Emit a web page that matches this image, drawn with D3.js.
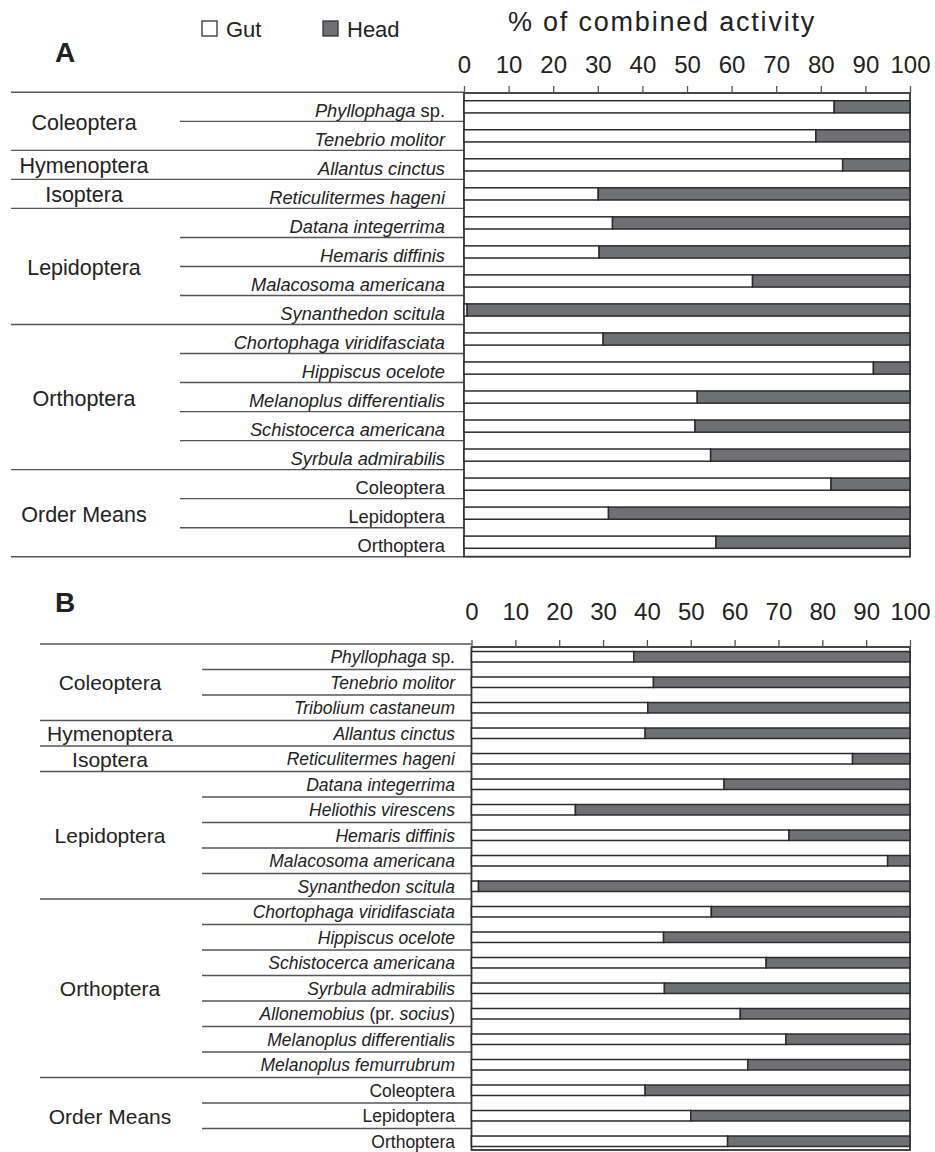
<!DOCTYPE html>
<meta charset="UTF-8">
<style>
    body { margin: 0; background: #fff; }
    svg text { font-family: "Liberation Sans", Arial, sans-serif; fill: #222; }
    .rule { stroke: #555; stroke-width: 1.4; }
    .bar { stroke: #2b2b2b; stroke-width: 1.5; }
    .frame { fill: none; stroke: #333; stroke-width: 1.8; }
    .tick line { stroke: #555; stroke-width: 1.3; }
</style>
<body>
<script src="https://d3js.org/d3.v7.min.js"></script>
<script>

// ---- panel A data ----
var speciesA = ["Phyllophaga sp.", "Tenebrio molitor", "Allantus cinctus", "Reticulitermes hageni",
  "Datana integerrima", "Hemaris diffinis", "Malacosoma americana", "Synanthedon scitula",
  "Chortophaga viridifasciata", "Hippiscus ocelote", "Melanoplus differentialis",
  "Schistocerca americana", "Syrbula admirabilis", "Coleoptera", "Lepidoptera", "Orthoptera"];
var gutA = [83.0, 78.9, 84.9, 30.1, 33.3, 30.3, 64.7, 0.7, 31.2, 91.8, 52.3, 51.8, 55.3, 82.3, 32.4, 56.5];
var ordersA = ["Coleoptera", "Hymenoptera", "Isoptera", "Lepidoptera", "Orthoptera", "Order Means"];
var orderSizesA = [2, 1, 1, 4, 5, 3];

// ---- panel B data ----
var speciesB = ["Phyllophaga sp.", "Tenebrio molitor", "Tribolium castaneum", "Allantus cinctus",
  "Reticulitermes hageni", "Datana integerrima", "Heliothis virescens", "Hemaris diffinis",
  "Malacosoma americana", "Synanthedon scitula", "Chortophaga viridifasciata", "Hippiscus ocelote",
  "Schistocerca americana", "Syrbula admirabilis", "Allonemobius (pr. socius)",
  "Melanoplus differentialis", "Melanoplus femurrubrum", "Coleoptera", "Lepidoptera", "Orthoptera"];
var gutB = [37.0, 41.5, 40.2, 39.6, 86.9, 57.6, 23.7, 72.4, 94.9, 1.6, 54.7, 43.8, 67.2, 44.0, 61.3,
  71.7, 63.0, 39.6, 50.0, 58.4];
var ordersB = ["Coleoptera", "Hymenoptera", "Isoptera", "Lepidoptera", "Orthoptera", "Order Means"];
var orderSizesB = [3, 1, 1, 5, 7, 3];

var tickValues = [0, 10, 20, 30, 40, 50, 60, 70, 80, 90, 100];
var seriesNames = ["Gut", "Head"];
var colors = { Gut: "#fff", Head: "#6f7073" };

var svg = d3.select("body").append("svg")
    .attr("width", 935)
    .attr("height", 1152);

// title + legend
svg.append("text")
    .attr("x", 662).attr("y", 31)
    .attr("text-anchor", "middle")
    .style("font-size", "27px")
    .style("letter-spacing", "1.8px")
    .text("% of combined activity");

var legend = svg.selectAll("g.legend")
    .data(seriesNames)
  .enter().append("g")
    .attr("class", "legend")
    .attr("transform", function(d, i) { return "translate(" + (202 + i * 121) + ",21)"; });
legend.append("rect")
    .attr("width", 15).attr("height", 15)
    .style("fill", function(d) { return colors[d]; })
    .style("stroke", "#333").style("stroke-width", 1.3);
legend.append("text")
    .attr("x", 24).attr("y", 15.5)
    .style("font-size", "22px")
    .text(function(d) { return d; });

// italic species names, with "sp.", "(pr. " and ")" upright
function writeName(sel, name, upright) {
  var parts = upright ? [name] : name.split(/(sp\.|\(pr\. |\))/).filter(Boolean);
  parts.forEach(function(p) {
    var plain = upright || /^(sp\.|\(pr\. |\))$/.test(p);
    sel.append("tspan")
      .style("font-style", plain ? "normal" : "italic")
      .text(p);
  });
}

function drawPanel(cfg) {
  var g = svg.append("g");
  var n = cfg.species.length;
  var idx = d3.range(n);

  var x = d3.scaleLinear().domain([0, 100]).range([cfg.x0, cfg.x1]);
  var rows = d3.scaleBand().domain(idx).range([cfg.rowTop, cfg.rowBottom]);
  var bars = rows.copy().paddingInner(cfg.pad).paddingOuter(cfg.pad / 2);

  // panel letter
  g.append("text")
      .attr("x", 55).attr("y", cfg.letterY)
      .style("font-size", "28px").style("font-weight", "bold")
      .text(cfg.letter);

  // group boundaries
  var ends = [], acc = 0;
  cfg.sizes.forEach(function(s) { acc += s; ends.push(acc); });
  var starts = [0].concat(ends.slice(0, -1));

  // row rules
  var bounds = d3.range(n + 1);
  g.selectAll("line.rule")
      .data(bounds)
    .enter().append("line")
      .attr("class", "rule")
      .attr("x1", function(b) { return (b === 0 || ends.indexOf(b) >= 0) ? cfg.fullX : cfg.shortX; })
      .attr("x2", cfg.x0)
      .attr("y1", function(b) { return cfg.rowTop + b * rows.step(); })
      .attr("y2", function(b) { return cfg.rowTop + b * rows.step(); });

  // group labels
  g.selectAll("text.order")
      .data(cfg.orders)
    .enter().append("text")
      .attr("class", "order")
      .attr("x", cfg.groupX)
      .attr("y", function(d, i) {
        return cfg.rowTop + (starts[i] + ends[i]) / 2 * rows.step() + cfg.groupDy;
      })
      .attr("text-anchor", "middle")
      .style("font-size", cfg.groupSize + "px")
      .text(function(d) { return d; });

  // species labels
  var meansStart = starts[starts.length - 1];
  g.selectAll("text.sp")
      .data(idx)
    .enter().append("text")
      .attr("class", "sp")
      .attr("x", cfg.speciesX)
      .attr("y", function(i) { return rows(i) + rows.bandwidth() / 2 + cfg.spDy; })
      .attr("text-anchor", "end")
      .style("font-size", cfg.spSize + "px")
      .each(function(i) { writeName(d3.select(this), cfg.species[i], i >= meansStart); });

  // plot frame
  g.append("rect")
      .attr("class", "frame")
      .attr("x", cfg.x0).attr("y", cfg.axisY)
      .attr("width", cfg.x1 - cfg.x0)
      .attr("height", cfg.plotBottom - cfg.axisY);

  // stacked bars
  var stackData = idx.map(function(i) { return { Gut: cfg.gut[i], Head: 100 - cfg.gut[i], i: i }; });
  var series = d3.stack().keys(seriesNames)(stackData);
  g.selectAll("g.series")
      .data(series)
    .enter().append("g")
      .attr("class", "series")
      .style("fill", function(d) { return colors[d.key]; })
    .selectAll("rect")
      .data(function(d) { return d; })
    .enter().append("rect")
      .attr("class", "bar")
      .attr("x", function(d) { return x(d[0]); })
      .attr("y", function(d) { return bars(d.data.i); })
      .attr("width", function(d) { return x(d[1]) - x(d[0]); })
      .attr("height", bars.bandwidth());

  // top axis
  var axis = g.append("g")
      .attr("transform", "translate(0," + cfg.axisY + ")")
      .call(d3.axisTop(x).tickValues(tickValues).tickSize(7).tickSizeOuter(0).tickPadding(cfg.tickPad));
  axis.select(".domain").remove();
  axis.selectAll("text")
      .style("font-family", '"Liberation Sans", Arial, sans-serif')
      .style("font-size", "24px")
      .style("fill", "#222");
}

drawPanel({
  letter: "A", letterY: 62,
  species: speciesA, gut: gutA, orders: ordersA, sizes: orderSizesA,
  x0: 464, x1: 910, rowTop: 92.3, rowBottom: 556.7, axisY: 93, plotBottom: 556.7,
  pad: 0.58, tickPad: 13,
  fullX: 11, shortX: 180, groupX: 84, speciesX: 445,
  spSize: 18.3, spDy: 10, groupSize: 21.5, groupDy: 8.5
});

drawPanel({
  letter: "B", letterY: 612,
  species: speciesB, gut: gutB, orders: ordersB, sizes: orderSizesB,
  x0: 471.5, x1: 910, rowTop: 644, rowBottom: 1154, axisY: 647, plotBottom: 1150,
  pad: 0.59, tickPad: 20,
  fullX: 40, shortX: 202, groupX: 110, speciesX: 455,
  spSize: 17.5, spDy: 6.5, groupSize: 21, groupDy: 8
});

</script>
</body>
